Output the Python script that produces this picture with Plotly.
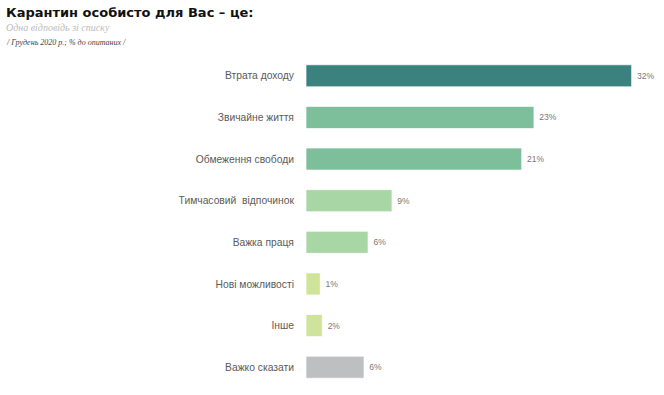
import plotly.graph_objects as go

categories = ["Втрата доходу", "Звичайне життя", "Обмеження свободи", "Тимчасовий  відпочинок",
              "Важка праця", "Нові можливості", "Інше", "Важко сказати"]
values = [32.0, 22.4, 21.2, 8.45, 6.1, 1.4, 1.6, 5.7]
labels = ["32%", "23%", "21%", "9%", "6%", "1%", "2%", "6%"]
colors = ["#3b827e", "#7cbf9a", "#7cbf9a", "#a8d6a4", "#a8d6a4", "#d0e39a", "#d0e39a", "#bebfc0"]

W, H = 664, 395
ml, mr, mt, mb = 306, 12, 55, 7
pw, ph = W - ml - mr, H - mt - mb

def px(x):
    return (x - ml) / pw

def py(y):
    return (H - mb - y) / ph

fig = go.Figure(go.Bar(
    y=categories, x=values, orientation="h",
    marker=dict(color=colors, line=dict(color="rgba(255,255,255,0.7)", width=1)),
    text=[" " + t for t in labels], textposition="outside", cliponaxis=False,
    textfont=dict(family="Liberation Sans, Arial, sans-serif", size=8.5, color="#777777"),
    hoverinfo="skip",
))

fig.update_layout(
    width=W, height=H,
    margin=dict(l=ml, r=mr, t=mt, b=mb),
    paper_bgcolor="white", plot_bgcolor="white",
    bargap=0.47, showlegend=False,
    xaxis=dict(range=[0, 34], visible=False, fixedrange=True),
    yaxis=dict(autorange="reversed", showgrid=False, zeroline=False, showline=False,
               ticks="outside", ticklen=9, tickcolor="rgba(0,0,0,0)", automargin=False,
               fixedrange=True,
               tickfont=dict(family="Liberation Sans, Arial, sans-serif", size=10.3, color="#5a5a5a")),
    annotations=[
        dict(text="<b>Карантин особисто для Вас – це:</b>", xref="paper", yref="paper",
             x=px(4), y=py(13), xanchor="left", yanchor="middle", showarrow=False,
             font=dict(family="DejaVu Sans, sans-serif", size=13, color="#111111")),
        dict(text="<i>Одна відповідь зі списку</i>", xref="paper", yref="paper",
             x=px(4), y=py(28), xanchor="left", yanchor="middle", showarrow=False,
             font=dict(family="Liberation Serif, serif", size=10, color="#bbbbbb")),
        dict(text="<i>/ Грудень 2020 р.; % до опитаних /</i>", xref="paper", yref="paper",
             x=px(4), y=py(42), xanchor="left", yanchor="middle", showarrow=False,
             font=dict(family="Liberation Serif, serif", size=8, color="#444444")),
    ],
)

fig.write_html("out.html", config={"displayModeBar": False},
               post_script="document.body.style.margin='0px';")
